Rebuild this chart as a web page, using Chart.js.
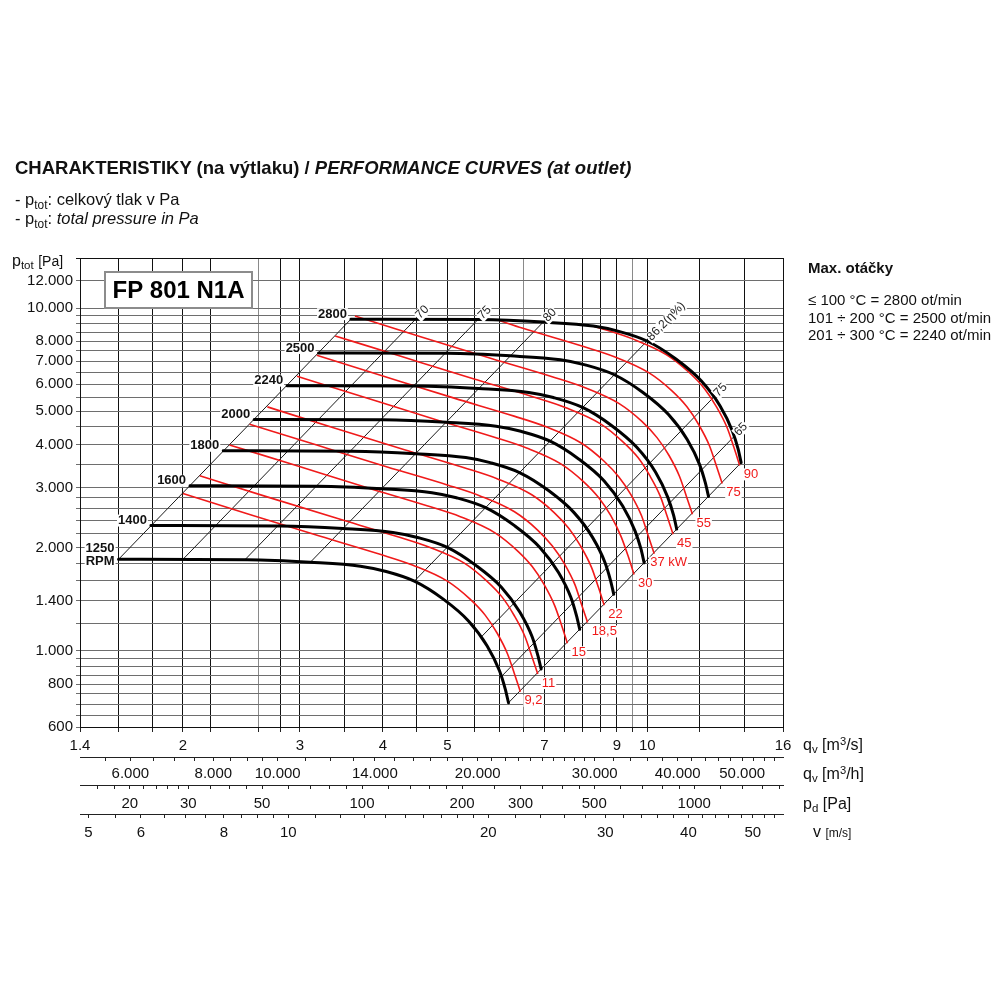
<!DOCTYPE html>
<html>
<head>
<meta charset="utf-8">
<title>FP 801 N1A</title>
<script src="https://cdn.jsdelivr.net/npm/chart.js@4.4.1/dist/chart.umd.min.js"></script>
<style>
  body { margin: 0; background: #fff; font-family: "Liberation Sans", Arial, sans-serif; color: #111; }
  #page { position: relative; width: 1000px; height: 1000px; }
  #chart { position: absolute; left: 0; top: 0; }
  .txt { position: absolute; white-space: nowrap; line-height: 1; }
  .sub { font-size: 0.72em; position: relative; top: 0.3em; }
  .sup { font-size: 0.7em; position: relative; top: -0.45em; }
</style>
</head>
<body>
<div id="page">
  <canvas id="chart" width="1000" height="1000"></canvas>

  <div class="txt" style="left:15px;top:159px;font-size:18.5px;font-weight:bold;">CHARAKTERISTIKY (na výtlaku) / <i>PERFORMANCE CURVES (at outlet)</i></div>
  <div class="txt" style="left:15px;top:191px;font-size:16.5px;">- p<span class="sub">tot</span>: celkový tlak v Pa</div>
  <div class="txt" style="left:15px;top:210px;font-size:16.5px;">- p<span class="sub">tot</span>: <i>total pressure in Pa</i></div>
  <div class="txt" style="left:12px;top:253px;font-size:16px;">p<span class="sub">tot</span> <span style="font-size:14px">[Pa]</span></div>

  <div class="txt" style="left:808px;top:260px;font-size:15px;font-weight:bold;">Max. otáčky</div>
  <div class="txt" style="left:808px;top:292px;font-size:15px;">≤ 100 °C = 2800 ot/min</div>
  <div class="txt" style="left:808px;top:310px;font-size:15px;">101 ÷ 200 °C = 2500 ot/min</div>
  <div class="txt" style="left:808px;top:327px;font-size:15px;">201 ÷ 300 °C = 2240 ot/min</div>

  <div class="txt" style="left:803px;top:737px;font-size:16px;">q<span class="sub">v</span> [m<span class="sup">3</span>/s]</div>
  <div class="txt" style="left:803px;top:766px;font-size:16px;">q<span class="sub">v</span> [m<span class="sup">3</span>/h]</div>
  <div class="txt" style="left:803px;top:796px;font-size:16px;">p<span class="sub">d</span> [Pa]</div>
  <div class="txt" style="left:813px;top:824px;font-size:16px;">v <span style="font-size:12px">[m/s]</span></div>
</div>

<script>
// ---- axis grids and tick labels ----
var qGrid = [1.4, 1.6, 1.8, 2, 2.2, 2.6, 2.8, 3, 3.5, 4, 4.5, 5, 5.5, 6, 6.5, 7, 7.5, 8, 8.5, 9, 9.5, 10, 12, 14, 16];
var qGray = [2.6, 6.5, 9.5];
var qLabels = [1.4, 2, 3, 4, 5, 7, 9, 10, 16];

var pGrid = [600, 650, 700, 750, 800, 850, 900, 950, 1000, 1200, 1400, 1600, 1800, 2000, 2200, 2400, 2600, 2800,
             3000, 3500, 4000, 4500, 5000, 5500, 6000, 6500, 7000, 7500, 8000, 8500, 9000, 9500, 10000, 12000, 14000];
var pLabels = [600, 800, 1000, 1400, 2000, 3000, 4000, 5000, 6000, 7000, 8000, 10000, 12000];

var qhTicks = [5500, 6000, 6500, 7000, 7500, 8000, 8500, 9000, 9500, 10000, 11000, 12000, 13000, 14000, 15000,
               16000, 17000, 18000, 19000, 20000, 21000, 22000, 23000, 24000, 25000, 26000, 27000, 28000, 29000,
               30000, 32000, 34000, 36000, 38000, 40000, 42000, 44000, 46000, 48000, 50000, 52000, 54000, 56000];
var qhLabels = [6000, 8000, 10000, 14000, 20000, 30000, 40000, 50000];

var pdTicks = [16, 18, 20, 22, 24, 26, 28, 30, 35, 40, 45, 50, 60, 70, 80, 90, 100, 120, 140, 160, 180, 200,
               250, 300, 350, 400, 450, 500, 600, 700, 800, 900, 1000, 1200, 1400, 1600, 1800];
var pdLabels = [20, 30, 50, 100, 200, 300, 500, 1000];

var vTicks = [5, 5.5, 6, 6.5, 7, 7.5, 8, 8.5, 9, 9.5, 10, 11, 12, 13, 14, 15, 16, 17, 18, 19, 20,
              22, 24, 26, 28, 30, 32, 34, 36, 38, 40, 42, 44, 46, 48, 50, 52, 54];
var vLabels = [5, 6, 8, 10, 20, 30, 40, 50];

// ---- fan curves (qv m3/s, ptot Pa) ----
var rpmNames = ['1250', '1400', '1600', '1800', '2000', '2240', '2500', '2800'];
var q1250 = [1.60, 2.50, 3.11, 3.70, 4.03, 4.46, 4.93, 5.38, 5.74, 5.99, 6.11, 6.18];
var p1250 = [1850, 1845, 1814, 1767, 1708, 1598, 1416, 1223, 1034, 875, 775, 706];
var q1400 = [1.79, 2.80, 3.48, 4.14, 4.51, 5.00, 5.52, 6.03, 6.43, 6.71, 6.84, 6.92];
var p1400 = [2321, 2314, 2276, 2217, 2143, 2005, 1776, 1534, 1297, 1098, 972, 886];
var q1600 = [2.05, 3.20, 3.98, 4.74, 5.16, 5.71, 6.31, 6.89, 7.35, 7.67, 7.82, 7.91];
var p1600 = [3031, 3023, 2972, 2895, 2798, 2618, 2320, 2004, 1694, 1434, 1270, 1157];
var q1800 = [2.30, 3.60, 4.48, 5.33, 5.80, 6.42, 7.10, 7.75, 8.27, 8.63, 8.80, 8.90];
var p1800 = [3836, 3826, 3762, 3664, 3542, 3314, 2936, 2536, 2144, 1814, 1607, 1464];
var q2000 = [2.56, 4.00, 4.98, 5.92, 6.45, 7.14, 7.89, 8.61, 9.18, 9.58, 9.78, 9.89];
var p2000 = [4736, 4723, 4644, 4524, 4372, 4091, 3625, 3131, 2647, 2240, 1984, 1807];
var q2240 = [2.87, 4.48, 5.57, 6.63, 7.22, 7.99, 8.83, 9.64, 10.29, 10.73, 10.95, 11.07];
var p2240 = [5941, 5925, 5825, 5674, 5485, 5132, 4547, 3927, 3320, 2810, 2489, 2267];
var q2500 = [3.20, 5.00, 6.22, 7.40, 8.06, 8.92, 9.86, 10.76, 11.48, 11.98, 12.22, 12.36];
var p2500 = [7400, 7380, 7256, 7068, 6832, 6392, 5664, 4892, 4136, 3500, 3100, 2824];
var q2800 = [3.58, 5.60, 6.97, 8.29, 9.03, 9.99, 11.04, 12.05, 12.86, 13.42, 13.69, 13.84];
var p2800 = [9283, 9257, 9102, 8866, 8570, 8018, 7105, 6137, 5188, 4390, 3889, 3542];

// ---- shaft power curves (kW) ----
var kwNames = ['9,2', '11', '15', '18,5', '22', '30', '37 kW', '45', '55', '75', '90'];
var qKw9 = [2.00, 2.52, 3.22, 3.96, 4.44, 5.00, 5.41, 5.70, 5.94, 6.16, 6.31, 6.44];
var pKw9 = [2879, 2502, 2160, 1914, 1778, 1598, 1416, 1272, 1128, 980, 857, 760];
var qKw11 = [2.12, 2.67, 3.42, 4.20, 4.71, 5.31, 5.74, 6.05, 6.30, 6.54, 6.70, 6.84];
var pKw11 = [3243, 2819, 2433, 2156, 2003, 1800, 1595, 1433, 1271, 1104, 965, 856];
var qKw15 = [2.35, 2.97, 3.79, 4.66, 5.23, 5.89, 6.37, 6.71, 6.99, 7.25, 7.43, 7.58];
var pKw15 = [3989, 3467, 2993, 2652, 2464, 2214, 1962, 1762, 1563, 1358, 1187, 1053];
var qKw18 = [2.52, 3.18, 4.06, 5.00, 5.60, 6.31, 6.83, 7.19, 7.50, 7.78, 7.96, 8.13];
var pKw18 = [4587, 3986, 3441, 3049, 2833, 2546, 2256, 2026, 1797, 1561, 1365, 1211];
var qKw22 = [2.68, 3.37, 4.31, 5.30, 5.94, 6.69, 7.24, 7.62, 7.94, 8.24, 8.44, 8.61];
var pKw22 = [5151, 4476, 3864, 3424, 3181, 2859, 2533, 2276, 2018, 1753, 1533, 1360];
var qKw30 = [2.97, 3.74, 4.77, 5.87, 6.58, 7.41, 8.02, 8.45, 8.81, 9.13, 9.36, 9.55];
var pKw30 = [6331, 5502, 4750, 4209, 3910, 3514, 3114, 2797, 2480, 2155, 1885, 1671];
var qKw37 = [3.18, 4.01, 5.12, 6.30, 7.06, 7.95, 8.60, 9.06, 9.45, 9.80, 10.03, 10.24];
var pKw37 = [7281, 6328, 5463, 4841, 4497, 4042, 3581, 3217, 2853, 2479, 2167, 1922];
var qKw45 = [3.39, 4.28, 5.47, 6.72, 7.54, 8.49, 9.18, 9.68, 10.08, 10.46, 10.71, 10.93];
var pKw45 = [8295, 7209, 6223, 5515, 5123, 4604, 4080, 3665, 3250, 2824, 2469, 2190];
var qKw55 = [3.63, 4.57, 5.84, 7.19, 8.06, 9.07, 9.82, 10.34, 10.78, 11.18, 11.45, 11.69];
var pKw55 = [9483, 8241, 7115, 6305, 5857, 5264, 4664, 4190, 3716, 3228, 2823, 2503];
var qKw75 = [6.00, 6.48, 7.97, 8.94, 10.06, 10.89, 11.47, 11.95, 12.40, 12.70, 12.96];
var pKw75 = [9190, 8748, 7752, 7201, 6472, 5735, 5152, 4569, 3969, 3471, 3078];
var qKw90 = [8.30, 8.47, 9.50, 10.69, 11.57, 12.19, 12.70, 13.18, 13.50, 13.77];
var pKw90 = [8860, 8756, 8133, 7310, 6478, 5819, 5160, 4483, 3920, 3477];

// ---- efficiency lines: from the 1250 curve (a) up to the 2800 curve (b) ----
var effNames = ['', '70', '75', '80', '86,2(η%)', '75', '65', ''];
var effQa = [1.60, 2.00, 2.48, 3.11, 4.46, 5.62, 6.03, 6.18];
var effPa = [1850, 1850, 1846, 1814, 1598, 1097, 842, 706];
var effQb = [3.58, 4.48, 5.56, 6.97, 9.99, 12.59, 13.51, 13.84];
var effPb = [9283, 9283, 9262, 9102, 8018, 5504, 4225, 3542];

// secondary axis ranges matching qv 1.4 .. 16 m3/s
var qhRange = [5040, 57600];
var pdRange = [14.16, 1849.6];
var vRange = [4.858, 55.52];

var rpmQ = [q1250, q1400, q1600, q1800, q2000, q2240, q2500, q2800];
var rpmP = [p1250, p1400, p1600, p1800, p2000, p2240, p2500, p2800];
var kwQ = [qKw9, qKw11, qKw15, qKw18, qKw22, qKw30, qKw37, qKw45, qKw55, qKw75, qKw90];
var kwP = [pKw9, pKw11, pKw15, pKw18, pKw22, pKw30, pKw37, pKw45, pKw55, pKw75, pKw90];

var FONT = '"Liberation Sans", Arial, sans-serif';
var RED = '#f01a1a';
Chart.defaults.font.family = FONT;
Chart.defaults.color = '#111';

function pts(q, p) {
    return q.map(function(v, i) { return { x: v, y: p[i] }; });
}

// 12000 -> "12.000"
function dots(v) {
    return v >= 1000 ? Math.floor(v / 1000) + '.' + String(v % 1000).padStart(3, '0') : String(v);
}

function fixedTicks(list) {
    return function(scale) {
        scale.ticks = list.map(function(v) { return { value: v }; });
    };
}

function labelsFrom(list, fmt) {
    return function(v) { return list.indexOf(v) >= 0 ? fmt(v) : ''; };
}

function sideAxis(range, ticks, labels, fmt, weight, height, pad) {
    return {
        type: 'logarithmic',
        position: 'bottom',
        min: range[0],
        max: range[1],
        weight: weight,
        afterBuildTicks: fixedTicks(ticks),
        afterFit: function(s) { s.height = height; },
        grid: { drawOnChartArea: false, color: '#222', tickLength: 4 },
        border: { color: '#222', width: 1 },
        ticks: { autoSkip: false, maxRotation: 0, padding: pad, font: { size: 15 }, color: '#111',
                 callback: labelsFrom(labels, fmt) }
    };
}

// text with white background
function tag(ctx, txt, x, y, align, color, font) {
    ctx.font = font;
    var w = ctx.measureText(txt).width;
    var left = align === 'right' ? x - w : x;
    ctx.fillStyle = '#fff';
    ctx.fillRect(left - 1, y - 6, w + 2, 12);
    ctx.fillStyle = color;
    ctx.textAlign = 'left';
    ctx.textBaseline = 'middle';
    ctx.fillText(txt, left, y);
}

// datasets
var datasets = [];
rpmQ.forEach(function(q, i) {
    datasets.push({ label: rpmNames[i], data: pts(q, rpmP[i]), borderColor: '#000', borderWidth: 3,
                    cubicInterpolationMode: 'monotone', borderCapStyle: 'round', order: 1 });
});
kwQ.forEach(function(q, i) {
    datasets.push({ label: kwNames[i], data: pts(q, kwP[i]), borderColor: RED, borderWidth: 1.6,
                    cubicInterpolationMode: 'monotone', order: 2 });
});
effNames.forEach(function(n, i) {
    datasets.push({ label: 'eta ' + n, data: pts([effQa[i], effQb[i]], [effPa[i], effPb[i]]),
                    borderColor: '#1a1a1a', borderWidth: 1, tension: 0, order: 3 });
});

// labels, model box
var overlay = {
    id: 'overlay',
    afterDatasetsDraw: function(chart) {
        var ctx = chart.ctx, xs = chart.scales.x, ys = chart.scales.y, area = chart.chartArea;
        ctx.save();

        // model name box
        var bx = area.left + 25, by = area.top + 14;
        ctx.fillStyle = '#fff';
        ctx.fillRect(bx, by, 147, 36);
        ctx.strokeStyle = '#8c8c8c';
        ctx.lineWidth = 2;
        ctx.strokeRect(bx, by, 147, 36);
        ctx.fillStyle = '#000';
        ctx.font = 'bold 24px ' + FONT;
        ctx.textAlign = 'center';
        ctx.textBaseline = 'middle';
        ctx.fillText('FP 801 N1A', bx + 73.5, by + 19);

        // rpm labels at curve starts
        var bold = 'bold 13px ' + FONT;
        rpmQ.forEach(function(q, i) {
            var x = xs.getPixelForValue(q[0]) - 4, y = ys.getPixelForValue(rpmP[i][0]);
            if (i === 0) {
                tag(ctx, rpmNames[i], x, y - 11, 'right', '#111', bold);
                tag(ctx, 'RPM', x, y + 2, 'right', '#111', bold);
            } else {
                tag(ctx, rpmNames[i], x, y - 5, 'right', '#111', bold);
            }
        });

        // power labels at curve ends
        kwQ.forEach(function(q, i) {
            var n = q.length - 1;
            var x = xs.getPixelForValue(q[n]), y = ys.getPixelForValue(kwP[i][n]);
            var dx = kwNames[i].length > 4 ? -4 : 4;
            tag(ctx, kwNames[i], x + dx, y + 9, 'left', RED, '13px ' + FONT);
        });

        // efficiency labels, along the line above the 2800 curve
        effNames.forEach(function(n, i) {
            if (!n) return;
            var x1 = xs.getPixelForValue(effQa[i]), y1 = ys.getPixelForValue(effPa[i]);
            var x2 = xs.getPixelForValue(effQb[i]), y2 = ys.getPixelForValue(effPb[i]);
            ctx.save();
            ctx.translate(x2, y2);
            ctx.rotate(Math.atan2(y2 - y1, x2 - x1));
            tag(ctx, n, 3, 0, 'left', '#222', '12px ' + FONT);
            ctx.restore();
        });

        ctx.restore();
    }
};

new Chart(document.getElementById('chart').getContext('2d'), {
    type: 'line',
    data: { datasets: datasets },
    options: {
        responsive: false,
        animation: false,
        layout: { padding: { left: 0, top: 258, right: 217, bottom: 156 } },
        plugins: { legend: { display: false }, tooltip: { enabled: false }, title: { display: false } },
        elements: { point: { radius: 0, hoverRadius: 0 } },
        scales: {
            x: {
                type: 'logarithmic',
                position: 'bottom',
                min: 1.4,
                max: 16,
                weight: 0,
                afterBuildTicks: fixedTicks(qGrid),
                afterFit: function(s) { s.height = 30; },
                grid: {
                    color: function(c) { return qGray.indexOf(c.tick.value) >= 0 ? '#8a8a8a' : '#111'; },
                    tickColor: '#222',
                    tickLength: 5
                },
                border: { color: '#111', width: 1 },
                ticks: { autoSkip: false, maxRotation: 0, padding: 5, font: { size: 15 }, color: '#111',
                         callback: labelsFrom(qLabels, function(v) { return String(v); }) }
            },
            x2: sideAxis(qhRange, qhTicks, qhLabels, dots, 1, 28, 4),
            x3: sideAxis(pdRange, pdTicks, pdLabels, String, 2, 29, 6),
            x4: sideAxis(vRange, vTicks, vLabels, String, 3, 30, 6),
            y: {
                type: 'logarithmic',
                position: 'left',
                min: 600,
                max: 14000,
                afterBuildTicks: fixedTicks(pGrid),
                afterFit: function(s) { s.width = 80; },
                grid: {
                    color: function(c) { return c.tick.value === 14000 ? '#111' : '#6e6e6e'; },
                    tickLength: 4
                },
                border: { color: '#111', width: 1 },
                ticks: { autoSkip: false, padding: 3, font: { size: 15 }, color: '#111',
                         callback: labelsFrom(pLabels, dots) }
            }
        }
    },
    plugins: [overlay]
});
</script>
</body>
</html>
